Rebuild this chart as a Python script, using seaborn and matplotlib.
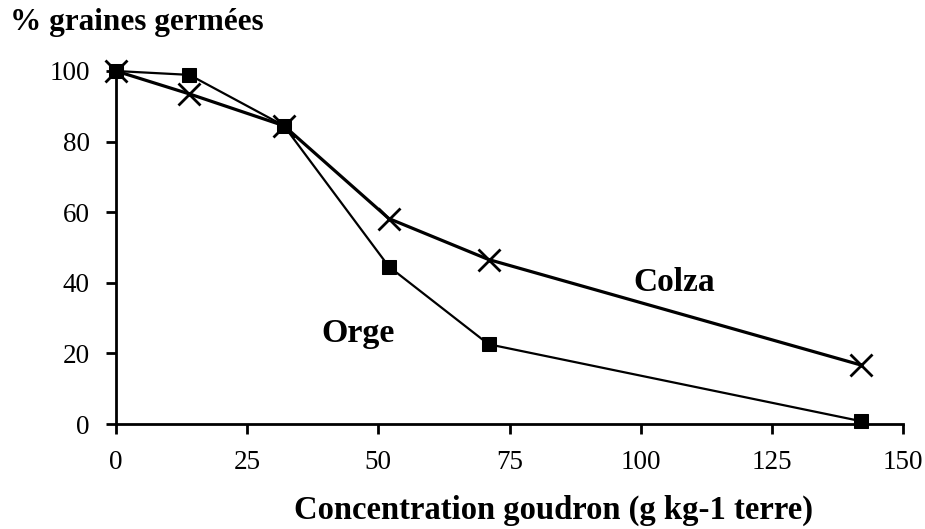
import matplotlib
matplotlib.use("Agg")
import matplotlib.pyplot as plt
import seaborn as sns
import pandas as pd

concentration = [0, 14, 32, 52, 71, 142]
orge = [100, 98.9, 84.5, 44.6, 22.6, 0.8]
colza = [100, 93.5, 84.5, 58.2, 46.6, 16.7]
x_ticks = [0, 25, 50, 75, 100, 125, 150]
y_ticks = [0, 20, 40, 60, 80, 100]

sns.set_style("white")
plt.rcParams['font.family'] = ['Liberation Serif', 'DejaVu Serif']
plt.rcParams['text.color'] = 'black'

df = pd.DataFrame({"x": concentration * 2,
                   "y": orge + colza,
                   "s": ["Orge"] * len(orge) + ["Colza"] * len(colza)})

fig = plt.figure(figsize=(9.25, 5.29), dpi=100)
ax = fig.add_axes([116 / 925, 1 - 424 / 529, (903 - 116) / 925, (424 - 71) / 529])

sns.lineplot(data=df[df.s == "Orge"], x="x", y="y", ax=ax, color="black",
             linewidth=1.6, marker="s", markersize=9.5, markeredgecolor="black",
             markerfacecolor="black", clip_on=False, zorder=3)
sns.lineplot(data=df[df.s == "Colza"], x="x", y="y", ax=ax, color="black",
             linewidth=2.3, marker="x", markersize=16, markeredgewidth=2.0,
             markeredgecolor="black", clip_on=False, zorder=4)

ax.set_xlim(0, 150)
ax.set_ylim(0, 100)
ax.set_xticks(x_ticks)
ax.set_yticks(y_ticks)
ax.tick_params(axis="both", direction="out", length=7, width=2, labelsize=19.5,
               color="black", labelcolor="black", left=True, bottom=True, pad=12)
for s in ["top", "right"]:
    ax.spines[s].set_visible(False)
for s in ["left", "bottom"]:
    ax.spines[s].set_color("black")
    ax.spines[s].set_linewidth(2)
ax.set_xlabel("")
ax.set_ylabel("")

fig.text(10 / 925, 1 - 30 / 529, "% graines germées", fontsize=22.5, fontweight="bold",
         ha="left", va="baseline", color="black")
fig.text(554 / 925, 1 - 519 / 529, "Concentration goudron (g kg-1 terre)", fontsize=23.5,
         fontweight="bold", ha="center", va="baseline", color="black")
ax.text(46.2, 23.2, "Orge", fontsize=24.5, fontweight="bold", ha="center",
        va="baseline", color="black")
ax.text(106.3, 37.6, "Colza", fontsize=24, fontweight="bold", ha="center",
        va="baseline", color="black")

fig.savefig("out.png", dpi=100)
